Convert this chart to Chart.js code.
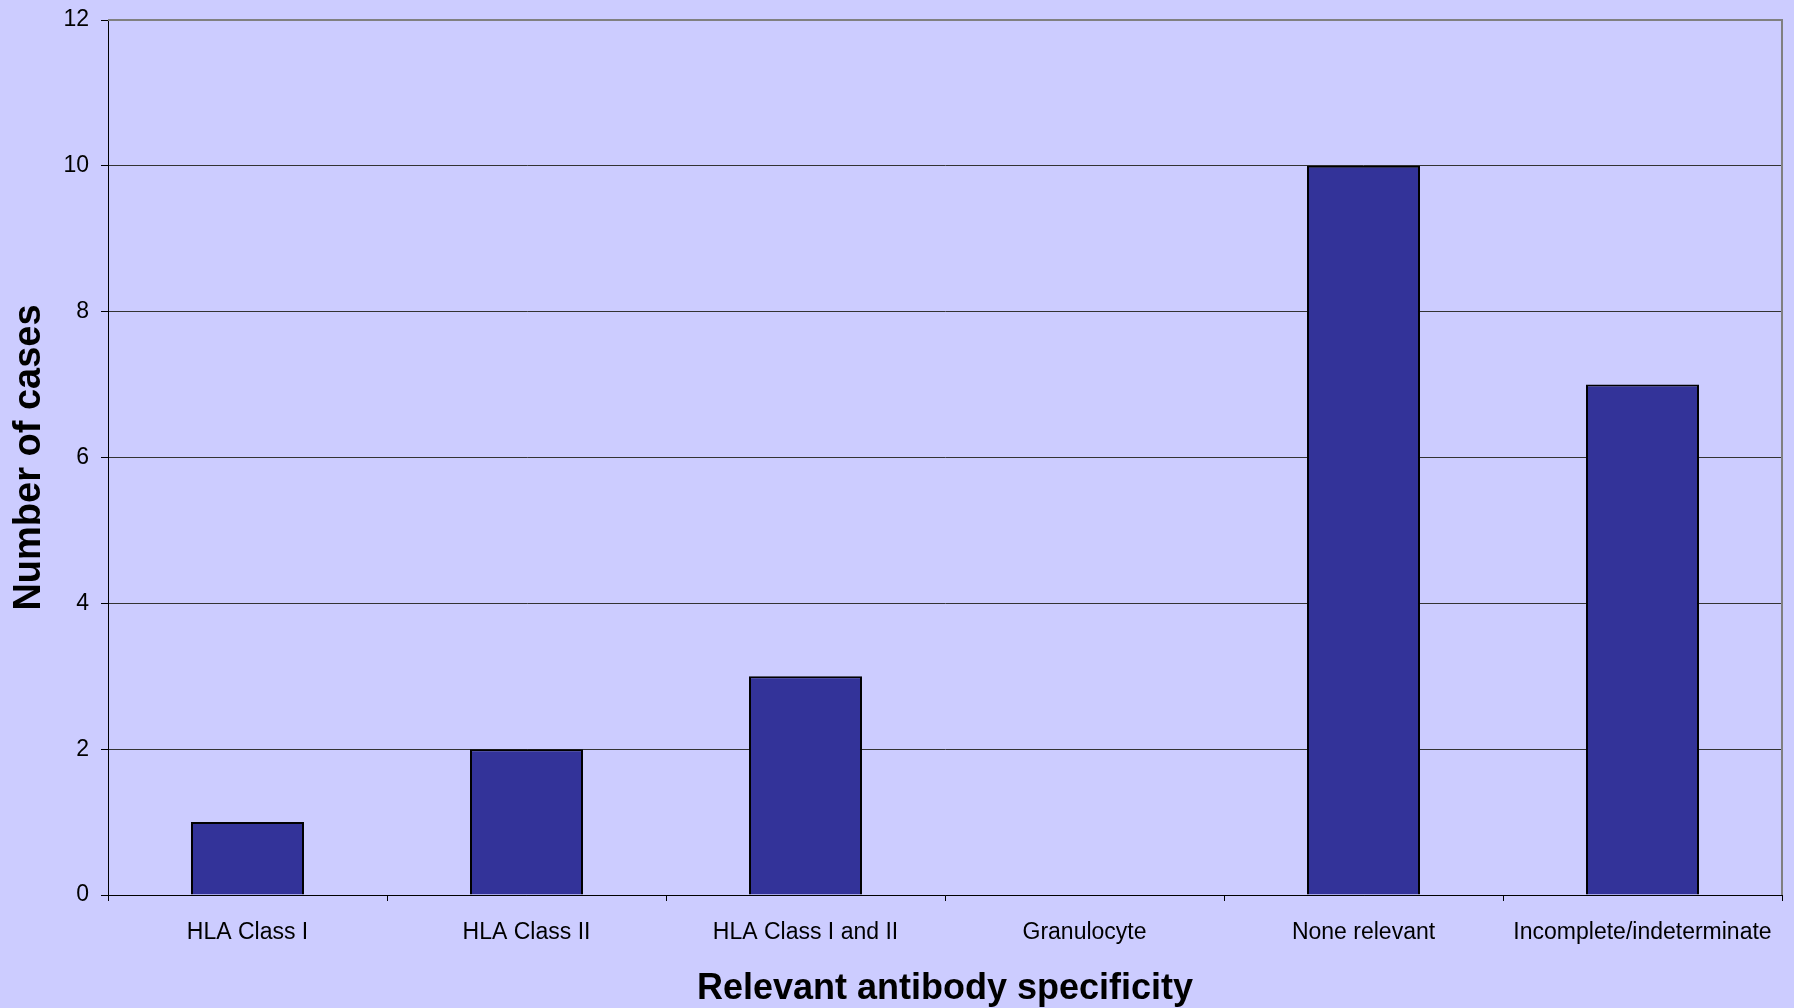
<!DOCTYPE html>
<html>
<head>
<meta charset="utf-8">
<script src="https://cdn.jsdelivr.net/npm/chart.js@4/dist/chart.umd.min.js"></script>
<style>
  html, body { margin: 0; padding: 0; background: #CCCCFF; }
  #wrap { width: 1794px; height: 1008px; }
</style>
</head>
<body>
<div id="wrap"><canvas id="c" width="1794" height="1008"></canvas></div>
<script>
const categories = ['HLA Class I', 'HLA Class II', 'HLA Class I and II', 'Granulocyte', 'None relevant', 'Incomplete/indeterminate'];
const cases = [1, 2, 3, 0, 10, 7];
const yTicks = [0, 2, 4, 6, 8, 10, 12];

const FONT = '"Liberation Sans", Arial, sans-serif';

// Gray frame on the top and right of the plot area
const plotFrame = {
  id: 'plotFrame',
  afterDraw(chart) {
    const { ctx, chartArea: a } = chart;
    ctx.save();
    ctx.strokeStyle = '#808080';
    ctx.lineWidth = 2;
    ctx.beginPath();
    ctx.moveTo(a.left, a.top);
    ctx.lineTo(a.right, a.top);
    ctx.lineTo(a.right, a.bottom);
    ctx.stroke();
    ctx.restore();
  }
};

new Chart(document.getElementById('c'), {
  type: 'bar',
  data: {
    labels: categories,
    datasets: [{
      data: cases,
      backgroundColor: '#333399',
      borderColor: '#000000',
      borderWidth: 2,
      barPercentage: 0.405,
      categoryPercentage: 1
    }]
  },
  options: {
    responsive: false,
    animation: false,
    devicePixelRatio: 1,
    layout: { padding: { left: 0, right: 12, top: 20, bottom: 0 } },
    plugins: { legend: { display: false }, tooltip: { enabled: false } },
    scales: {
      x: {
        offset: true,
        afterFit(scale) { scale.height = 113; },
        grid: {
          display: true,
          offset: true,
          drawOnChartArea: false,
          drawTicks: true,
          tickLength: 6,
          color: '#000000'
        },
        border: { display: true, color: '#000000', width: 1 },
        ticks: {
          color: '#000000',
          font: { family: FONT, size: 23 },
          padding: 18,
          maxRotation: 0,
          autoSkip: false
        },
        title: {
          display: true,
          text: 'Relevant antibody specificity',
          color: '#000000',
          font: { family: FONT, size: 36, weight: 'bold' },
          padding: { top: 0, bottom: -3 }
        }
      },
      y: {
        min: 0,
        max: 12,
        afterFit(scale) {
          scale.width = 108;
          scale.paddingTop = 0;
          scale.paddingBottom = 0;
        },
        afterBuildTicks(scale) { scale.ticks = yTicks.map(v => ({ value: v })); },
        grid: {
          color: '#333333',
          lineWidth: 1,
          drawTicks: true,
          tickLength: 7,
          tickColor: '#000000'
        },
        border: { display: true, color: '#000000', width: 1 },
        ticks: {
          color: '#000000',
          font: { family: FONT, size: 23 },
          padding: 12
        },
        title: {
          display: true,
          text: 'Number of cases',
          color: '#000000',
          font: { family: FONT, size: 38, weight: 'bold' },
          padding: { top: 7, bottom: 0 }
        }
      }
    }
  },
  plugins: [plotFrame]
});
</script>
</body>
</html>
